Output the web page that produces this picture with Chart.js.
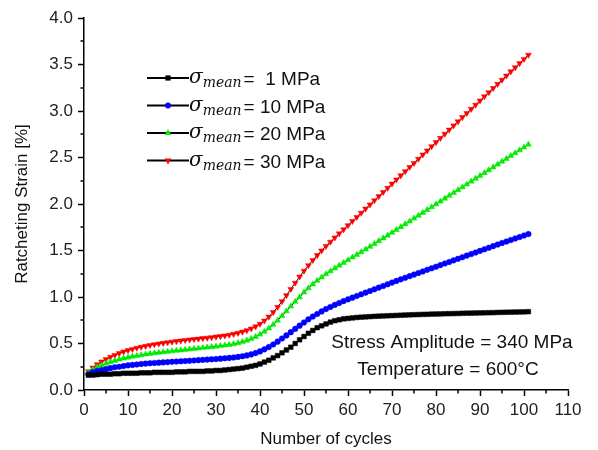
<!DOCTYPE html>
<html>
<head>
<meta charset="utf-8">
<script src="https://cdn.jsdelivr.net/npm/chart.js@4.4.0/dist/chart.umd.min.js"></script>
<style>
  html, body { margin: 0; padding: 0; background: #fff; }
  #wrap { width: 598px; height: 450px; }
</style>
</head>
<body>
<div id="wrap"><canvas id="myChart" width="598" height="450"></canvas></div>
<script>
// cycle numbers (x)
const cycles = [
  1, 2, 3, 4, 5, 6, 7, 8, 9, 10,
  11, 12, 13, 14, 15, 16, 17, 18, 19, 20,
  21, 22, 23, 24, 25, 26, 27, 28, 29, 30,
  31, 32, 33, 34, 35, 36, 37, 38, 39, 40,
  41, 42, 43, 44, 45, 46, 47, 48, 49, 50,
  51, 52, 53, 54, 55, 56, 57, 58, 59, 60,
  61, 62, 63, 64, 65, 66, 67, 68, 69, 70,
  71, 72, 73, 74, 75, 76, 77, 78, 79, 80,
  81, 82, 83, 84, 85, 86, 87, 88, 89, 90,
  91, 92, 93, 94, 95, 96, 97, 98, 99, 100, 101
];

// ratcheting strain [%] for each mean stress
const strain1 = [
  0.16, 0.16, 0.165, 0.17, 0.17, 0.17, 0.175, 0.175, 0.18, 0.18,
  0.18, 0.18, 0.185, 0.185, 0.185, 0.19, 0.19, 0.19, 0.19, 0.19,
  0.195, 0.195, 0.195, 0.2, 0.2, 0.2, 0.2, 0.205, 0.205, 0.21,
  0.21, 0.215, 0.22, 0.225, 0.23, 0.235, 0.245, 0.255, 0.265, 0.28,
  0.3, 0.32, 0.345, 0.37, 0.4, 0.43, 0.46, 0.5, 0.54, 0.575,
  0.61, 0.64, 0.67, 0.69, 0.71, 0.73, 0.745, 0.755, 0.765, 0.77,
  0.775, 0.78, 0.783, 0.786, 0.789, 0.792, 0.794, 0.796, 0.798, 0.8,
  0.802, 0.804, 0.806, 0.808, 0.81, 0.811, 0.813, 0.814, 0.816, 0.817,
  0.818, 0.82, 0.821, 0.822, 0.823, 0.825, 0.826, 0.827, 0.828, 0.829,
  0.83, 0.831, 0.832, 0.834, 0.835, 0.836, 0.837, 0.838, 0.839, 0.84, 0.842
];
const strain10 = [
  0.17, 0.19, 0.205, 0.215, 0.225, 0.235, 0.245, 0.25, 0.258, 0.265,
  0.27, 0.275, 0.28, 0.284, 0.288, 0.291, 0.294, 0.297, 0.3, 0.303,
  0.306, 0.309, 0.312, 0.315, 0.318, 0.321, 0.324, 0.327, 0.33, 0.333,
  0.337, 0.341, 0.345, 0.35, 0.356, 0.363, 0.372, 0.383, 0.397, 0.415,
  0.437, 0.462, 0.49, 0.52, 0.553, 0.587, 0.622, 0.657, 0.692, 0.726,
  0.76, 0.79, 0.818, 0.845, 0.87, 0.893, 0.915, 0.936, 0.956, 0.975,
  0.993, 1.011, 1.029, 1.047, 1.065, 1.083, 1.101, 1.119, 1.137, 1.155,
  1.173, 1.19, 1.207, 1.224, 1.241, 1.258, 1.275, 1.292, 1.309, 1.326,
  1.343, 1.36, 1.377, 1.394, 1.411, 1.428, 1.445, 1.462, 1.479, 1.496,
  1.513, 1.53, 1.547, 1.564, 1.581, 1.597, 1.613, 1.629, 1.645, 1.661, 1.677
];
const strain20 = [
  0.19, 0.22, 0.245, 0.265, 0.285, 0.3, 0.315, 0.328, 0.34, 0.35,
  0.36, 0.368, 0.376, 0.383, 0.39, 0.396, 0.402, 0.408, 0.413, 0.418,
  0.423, 0.428, 0.433, 0.438, 0.443, 0.448, 0.453, 0.458, 0.463, 0.468,
  0.474, 0.48, 0.487, 0.495, 0.505, 0.517, 0.532, 0.55, 0.572, 0.598,
  0.628, 0.663, 0.703, 0.748, 0.797, 0.848, 0.9, 0.95, 0.998, 1.05,
  1.095, 1.137, 1.176, 1.212, 1.246, 1.278, 1.309, 1.339, 1.368, 1.397,
  1.426, 1.455, 1.484, 1.513, 1.542, 1.572, 1.602, 1.632, 1.662, 1.692,
  1.723, 1.753, 1.784, 1.814, 1.845, 1.875, 1.906, 1.937, 1.967, 1.998,
  2.028, 2.059, 2.09, 2.12, 2.151, 2.181, 2.212, 2.242, 2.273, 2.304,
  2.334, 2.365, 2.395, 2.426, 2.456, 2.487, 2.518, 2.548, 2.579, 2.609, 2.64
];
const strain30 = [
  0.2, 0.24, 0.275, 0.305, 0.33, 0.355, 0.375, 0.395, 0.412, 0.427,
  0.44, 0.452, 0.463, 0.473, 0.482, 0.49, 0.498, 0.505, 0.512, 0.518,
  0.524, 0.53, 0.536, 0.541, 0.546, 0.551, 0.556, 0.561, 0.566, 0.572,
  0.578, 0.585, 0.593, 0.602, 0.613, 0.626, 0.641, 0.66, 0.683, 0.71,
  0.745, 0.787, 0.836, 0.892, 0.953, 1.018, 1.085, 1.152, 1.218, 1.281,
  1.34, 1.396, 1.449, 1.499, 1.547, 1.593, 1.638, 1.682, 1.726, 1.77,
  1.815, 1.859, 1.904, 1.949, 1.993, 2.038, 2.083, 2.127, 2.172, 2.217,
  2.262, 2.306, 2.351, 2.396, 2.44, 2.485, 2.53, 2.574, 2.619, 2.664,
  2.709, 2.753, 2.798, 2.843, 2.887, 2.932, 2.977, 3.021, 3.066, 3.111,
  3.156, 3.2, 3.245, 3.29, 3.334, 3.379, 3.424, 3.468, 3.513, 3.558, 3.603
];

const seriesValues = [strain1, strain10, strain20, strain30];
const legendNumbers = [" 1", "10", "20", "30"];
const markerColors = ["#000000", "#0000ff", "#00ee00", "#ff0000"];
const markerShapes = ["rect", "circle", "triangle", "triangle"];
const markerRotations = [0, 0, 0, 180];
const markerSizes = [3.3, 2.8, 3.4, 3.4];

const xTicks = [0, 10, 20, 30, 40, 50, 60, 70, 80, 90, 100, 110];
const yTicks = [0, 0.5, 1, 1.5, 2, 2.5, 3, 3.5, 4];

const labelFont = "'Liberation Sans', Arial, sans-serif";

const datasets = seriesValues.map((vals, i) => ({
  label: "σmean = " + legendNumbers[i] + " MPa",
  data: cycles.map((c, k) => ({ x: c, y: vals[k] })),
  borderColor: "#000",
  borderWidth: 1,
  pointStyle: markerShapes[i],
  pointRotation: markerRotations[i],
  pointRadius: markerSizes[i],
  pointBackgroundColor: markerColors[i],
  pointBorderColor: markerColors[i],
  pointBorderWidth: 0.5,
  tension: 0,
}));

// minor ticks between the labelled ones
const minorTicks = {
  id: "minorTicks",
  afterDraw(chart) {
    const ctx = chart.ctx;
    const xs = chart.scales.x;
    const ys = chart.scales.y;
    const area = chart.chartArea;
    ctx.save();
    ctx.strokeStyle = "#000";
    ctx.lineWidth = 1.5;
    ctx.beginPath();
    for (let i = 0; i < xTicks.length - 1; i++) {
      const px = Math.round(xs.getPixelForValue((xTicks[i] + xTicks[i + 1]) / 2));
      ctx.moveTo(px, area.bottom);
      ctx.lineTo(px, area.bottom + 3.5);
    }
    for (let i = 0; i < yTicks.length - 1; i++) {
      const py = Math.round(ys.getPixelForValue((yTicks[i] + yTicks[i + 1]) / 2));
      ctx.moveTo(area.left, py);
      ctx.lineTo(area.left - 3.5, py);
    }
    ctx.stroke();
    ctx.restore();
  },
};

// legend with subscript text, inside plot
const mathLegend = {
  id: "mathLegend",
  afterDatasetsDraw(chart) {
    const ctx = chart.ctx;
    const rows = [78, 105.5, 133, 160.5];
    ctx.save();
    chart.data.datasets.forEach((ds, i) => {
      const y = rows[i];
      ctx.strokeStyle = "#000";
      ctx.lineWidth = 2;
      ctx.beginPath();
      ctx.moveTo(147, y);
      ctx.lineTo(189, y);
      ctx.stroke();
      ctx.fillStyle = ds.pointBackgroundColor;
      ctx.strokeStyle = ds.pointBorderColor;
      ctx.lineWidth = 0.5;
      Chart.helpers.drawPoint(ctx, {
        pointStyle: ds.pointStyle,
        rotation: ds.pointRotation,
        radius: ds.pointRadius,
        borderWidth: 0.5,
      }, 168, y);

      ctx.fillStyle = "#111";
      ctx.textBaseline = "alphabetic";
      ctx.textAlign = "left";
      ctx.font = "italic 20px 'DejaVu Serif', serif";
      ctx.fillText("σ", 189, y + 5);
      let x = 189 + ctx.measureText("σ").width;
      ctx.font = "italic 14px 'DejaVu Serif', serif";
      ctx.fillText("mean", x, y + 9);
      x += ctx.measureText("mean").width + 2;
      ctx.font = "19px " + labelFont;
      ctx.fillText("= " + legendNumbers[i] + " MPa", x, y + 7);
    });
    ctx.restore();
  },
};

// test conditions note
const conditionNote = {
  id: "conditionNote",
  afterDatasetsDraw(chart) {
    const ctx = chart.ctx;
    ctx.save();
    ctx.fillStyle = "#111";
    ctx.textAlign = "center";
    ctx.textBaseline = "middle";
    ctx.font = "19px " + labelFont;
    ctx.fillText("Stress Amplitude = 340 MPa", 452, 343);
    ctx.fillText("Temperature = 600°C", 448, 370);
    ctx.restore();
  },
};

const config = {
  type: "line",
  data: { datasets: datasets },
  options: {
    responsive: false,
    animation: false,
    devicePixelRatio: 1,
    layout: { padding: { top: 18, right: 30, left: 0, bottom: 0 } },
    plugins: {
      legend: { display: false },
      tooltip: { enabled: false },
    },
    scales: {
      x: {
        type: "linear",
        min: 0,
        max: 110,
        afterBuildTicks: (s) => { s.ticks = xTicks.map((v) => ({ value: v })); },
        afterFit: (s) => { s.height = 60; },
        ticks: {
          color: "#222",
          font: { family: labelFont, size: 17 },
          padding: 4,
          maxRotation: 0,
          autoSkip: false,
        },
        grid: {
          display: true,
          drawOnChartArea: false,
          drawTicks: true,
          tickLength: 6,
          tickColor: "#000",
          tickWidth: 1.5,
        },
        border: { display: true, color: "#000", width: 1.5 },
        title: {
          display: true,
          text: "Number of cycles",
          color: "#111",
          font: { family: labelFont, size: 17 },
          padding: { top: 2, bottom: 0 },
        },
      },
      y: {
        min: 0,
        max: 4,
        afterBuildTicks: (s) => { s.ticks = yTicks.map((v) => ({ value: v })); },
        afterFit: (s) => { s.width = 84; },
        ticks: {
          color: "#222",
          font: { family: labelFont, size: 17 },
          padding: 5,
          callback: (v) => v.toFixed(1),
        },
        grid: {
          display: true,
          drawOnChartArea: false,
          drawTicks: true,
          tickLength: 6,
          tickColor: "#000",
          tickWidth: 1.5,
        },
        border: { display: true, color: "#000", width: 1.5 },
        title: {
          display: true,
          text: "Ratcheting Strain [%]",
          color: "#111",
          font: { family: labelFont, size: 17 },
          padding: { top: 12, bottom: 4 },
        },
      },
    },
  },
  plugins: [minorTicks, mathLegend, conditionNote],
};

const myChart = new Chart(document.getElementById("myChart"), config);
</script>
</body>
</html>
